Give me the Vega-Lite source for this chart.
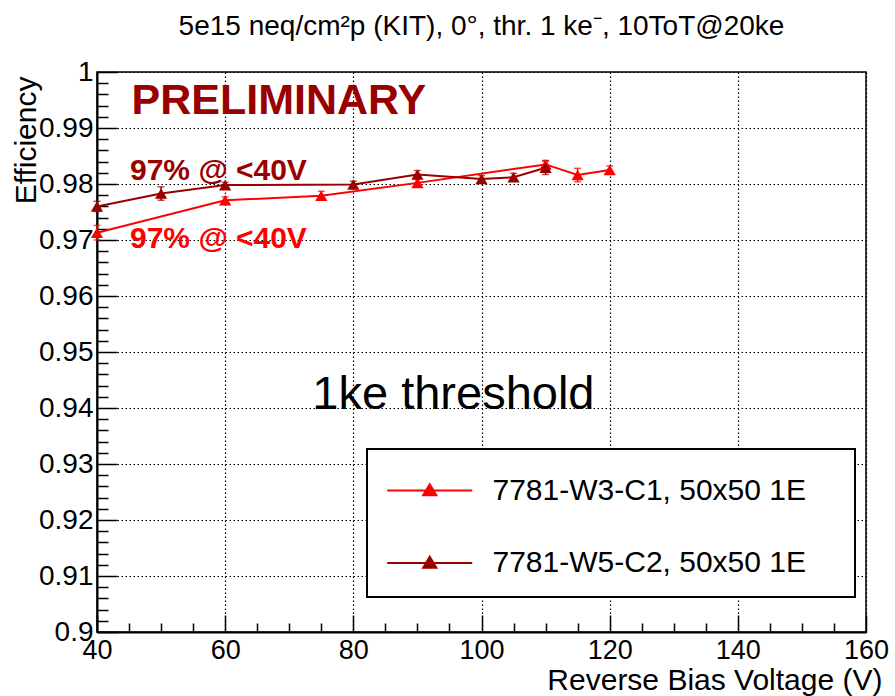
{
  "$schema": "https://vega.github.io/schema/vega-lite/v6.json",
  "width": 769,
  "height": 560,
  "autosize": {"type": "none"},
  "padding": {"left": 97, "top": 72, "right": 29, "bottom": 64},
  "background": "white",
  "title": {
    "text": "5e15 neq/cm²p (KIT), 0°, thr. 1 ke⁻, 10ToT@20ke",
    "font": "Liberation Sans",
    "fontSize": 28,
    "fontWeight": "normal",
    "color": "black",
    "anchor": "middle",
    "baseline": "alphabetic",
    "offset": -5
  },
  "config": {
    "font": "Liberation Sans",
    "view": {"stroke": "black", "strokeWidth": 1.5},
    "axis": {
      "domainColor": "black",
      "domainWidth": 2,
      "tickColor": "black",
      "tickWidth": 1.5,
      "labelColor": "black",
      "labelFont": "Liberation Sans",
      "labelFontSize": 27,
      "titleFont": "Liberation Sans",
      "titleFontSize": 30,
      "titleFontWeight": "normal",
      "titleColor": "black",
      "gridColor": "black",
      "gridDash": [1.5, 2.5],
      "gridWidth": 1.2,
      "labelOverlap": false,
      "labelFlush": false
    }
  },
  "datasets": {
    "eff": [
      {"voltage": 40, "efficiency": 0.9713, "err": 0.0013, "module": "7781-W3-C1, 50x50 1E"},
      {"voltage": 60, "efficiency": 0.9771, "err": 0.0006, "module": "7781-W3-C1, 50x50 1E"},
      {"voltage": 75, "efficiency": 0.9779, "err": 0.0008, "module": "7781-W3-C1, 50x50 1E"},
      {"voltage": 90, "efficiency": 0.9802, "err": 0.0006, "module": "7781-W3-C1, 50x50 1E"},
      {"voltage": 110, "efficiency": 0.9835, "err": 0.0007, "module": "7781-W3-C1, 50x50 1E"},
      {"voltage": 115, "efficiency": 0.9816, "err": 0.0012, "module": "7781-W3-C1, 50x50 1E"},
      {"voltage": 120, "efficiency": 0.9825, "err": 0.0007, "module": "7781-W3-C1, 50x50 1E"},
      {"voltage": 40, "efficiency": 0.9760, "err": 0.0009, "module": "7781-W5-C2, 50x50 1E"},
      {"voltage": 50, "efficiency": 0.9783, "err": 0.0012, "module": "7781-W5-C2, 50x50 1E"},
      {"voltage": 60, "efficiency": 0.9798, "err": 0.0005, "module": "7781-W5-C2, 50x50 1E"},
      {"voltage": 80, "efficiency": 0.9799, "err": 0.0006, "module": "7781-W5-C2, 50x50 1E"},
      {"voltage": 90, "efficiency": 0.9817, "err": 0.0007, "module": "7781-W5-C2, 50x50 1E"},
      {"voltage": 100, "efficiency": 0.9809, "err": 0.0006, "module": "7781-W5-C2, 50x50 1E"},
      {"voltage": 105, "efficiency": 0.9812, "err": 0.0007, "module": "7781-W5-C2, 50x50 1E"},
      {"voltage": 110, "efficiency": 0.9829, "err": 0.0012, "module": "7781-W5-C2, 50x50 1E"}
    ]
  },
  "encoding": {
    "x": {
      "field": "voltage",
      "type": "quantitative",
      "scale": {"domain": [40, 160], "nice": false, "zero": false},
      "axis": {
        "title": "Reverse Bias Voltage (V)",
        "titleAnchor": "end",
        "titleAlign": "right",
        "titleBaseline": "alphabetic",
        "titleX": 785,
        "titleY": 57,
        "values": [40, 45, 50, 55, 60, 65, 70, 75, 80, 85, 90, 95, 100, 105, 110, 115, 120, 125, 130, 135, 140, 145, 150, 155, 160],
        "labelExpr": "datum.value % 20 === 0 ? datum.label : ''",
        "tickSize": {"condition": {"test": "datum.value % 20 === 0", "value": -17}, "value": -9},
        "gridOpacity": {"condition": {"test": "datum.value % 20 === 0", "value": 1}, "value": 0},
        "labelPadding": 22,
        "labelBaseline": "top"
      }
    },
    "y": {
      "field": "efficiency",
      "type": "quantitative",
      "scale": {"domain": [0.9, 1.0], "nice": false, "zero": false},
      "axis": {
        "title": "Efficiency",
        "titleAngle": -90,
        "titleAnchor": "end",
        "titleAlign": "right",
        "titleBaseline": "alphabetic",
        "titleX": -62,
        "titleY": 4,
        "format": "~g",
        "values": [0.9, 0.902, 0.904, 0.906, 0.908, 0.91, 0.912, 0.914, 0.916, 0.918, 0.92, 0.922, 0.924, 0.926, 0.928, 0.93, 0.932, 0.934, 0.936, 0.938, 0.94, 0.942, 0.944, 0.946, 0.948, 0.95, 0.952, 0.954, 0.956, 0.958, 0.96, 0.962, 0.964, 0.966, 0.968, 0.97, 0.972, 0.974, 0.976, 0.978, 0.98, 0.982, 0.984, 0.986, 0.988, 0.99, 0.992, 0.994, 0.996, 0.998, 1.0],
        "labelExpr": "abs(datum.value * 100 - round(datum.value * 100)) < 0.01 ? datum.label : ''",
        "tickSize": {"condition": {"test": "abs(datum.value * 100 - round(datum.value * 100)) < 0.01", "value": -20}, "value": -11},
        "gridOpacity": {"condition": {"test": "abs(datum.value * 100 - round(datum.value * 100)) < 0.01", "value": 1}, "value": 0},
        "labelPadding": 24,
        "labelFontSize": 28,
        "labelBaseline": "middle"
      }
    }
  },
  "layer": [
    {
      "data": {"name": "eff"},
      "mark": {"type": "line", "strokeWidth": 2},
      "encoding": {
        "color": {
          "field": "module",
          "type": "nominal",
          "scale": {"domain": ["7781-W3-C1, 50x50 1E", "7781-W5-C2, 50x50 1E"], "range": ["#ff0000", "#990000"]},
          "legend": {
            "orient": "none",
            "legendX": 270,
            "legendY": 377,
            "title": "\u200b",
            "titleOrient": "right",
            "titlePadding": 30,
            "titleFontSize": 4,
            "direction": "vertical",
            "padding": 19,
            "strokeColor": "black",
            "fillColor": "white",
            "labelFont": "Liberation Sans",
            "labelFontSize": 30,
            "labelColor": "black",
            "labelOffset": 61.5,
            "labelLimit": 700,
            "rowPadding": 34.5,
            "symbolSize": 1806,
            "symbolType": "M-1,0L3,0M0.69,0.22L1.31,0.22L1,-0.3Z",
            "symbolStrokeWidth": 2,
            "encode": {
              "legend": {
                "update": {
                  "strokeWidth": {"value": 2}
                }
              },
              "symbols": {
                "update": {
                  "fill": {"scale": "color", "field": "value"},
                  "stroke": {"scale": "color", "field": "value"},
                  "opacity": {"value": 1}
                }
              }
            }
          }
        },
        "order": {"field": "voltage", "type": "quantitative"}
      }
    },
    {
      "data": {"name": "eff"},
      "mark": {"type": "errorbar", "ticks": {"size": 7, "thickness": 1.5}, "thickness": 1.5},
      "encoding": {
        "yError": {"field": "err"},
        "color": {"field": "module", "type": "nominal"}
      }
    },
    {
      "data": {"name": "eff"},
      "mark": {"type": "point", "shape": "triangle-up", "filled": true, "size": 150, "opacity": 1},
      "encoding": {
        "color": {"field": "module", "type": "nominal"}
      }
    },
    {
      "data": {"values": [{"voltage": 45.4, "efficiency": 0.9925, "note": "PRELIMINARY"}]},
      "mark": {"type": "text", "font": "Liberation Sans", "fontSize": 43, "fontWeight": "bold", "color": "#990000", "align": "left", "baseline": "alphabetic"},
      "encoding": {"text": {"field": "note"}}
    },
    {
      "data": {"values": [{"voltage": 45.15, "efficiency": 0.9807, "note": "97% @ <40V"}]},
      "mark": {"type": "text", "font": "Liberation Sans", "fontSize": 30, "fontWeight": "bold", "color": "#990000", "align": "left", "baseline": "alphabetic"},
      "encoding": {"text": {"field": "note"}}
    },
    {
      "data": {"values": [{"voltage": 45.15, "efficiency": 0.9685, "note": "97% @ <40V"}]},
      "mark": {"type": "text", "font": "Liberation Sans", "fontSize": 30, "fontWeight": "bold", "color": "#ff0000", "align": "left", "baseline": "alphabetic"},
      "encoding": {"text": {"field": "note"}}
    },
    {
      "data": {"values": [{"voltage": 73.6, "efficiency": 0.9398, "note": "1ke threshold"}]},
      "mark": {"type": "text", "font": "Liberation Sans", "fontSize": 47, "fontWeight": "normal", "color": "black", "align": "left", "baseline": "alphabetic"},
      "encoding": {"text": {"field": "note"}}
    }
  ]
}
